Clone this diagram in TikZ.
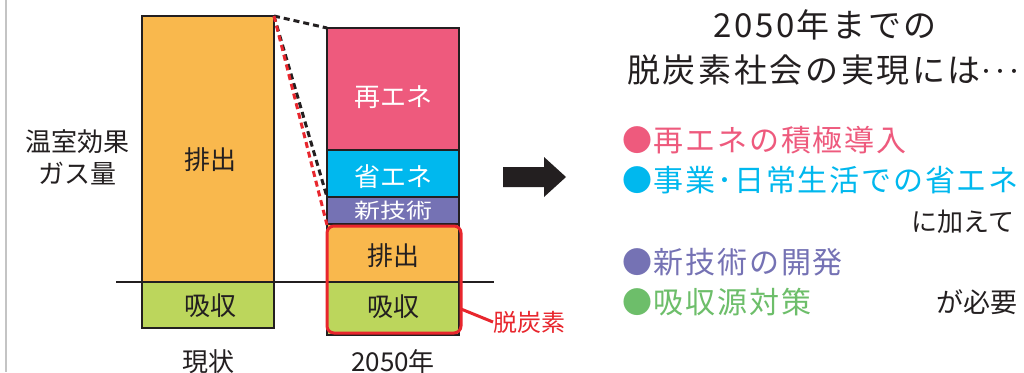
\documentclass[tikz,border=0pt]{standalone}
\usepackage{fontspec}
\usepackage{graphicx}
\setmainfont{Noto Sans CJK JP}
\newfontfamily\titlefont[LetterSpace=8]{Noto Sans CJK JP}
\newfontfamily\bulletfont[LetterSpace=6]{Noto Sans CJK JP}
\definecolor{barorange}{HTML}{F9B84D}
\definecolor{barlime}{HTML}{BCD65C}
\definecolor{barpink}{HTML}{EE5A7D}
\definecolor{barcyan}{HTML}{00B8EE}
\definecolor{barpurple}{HTML}{7572B4}
\definecolor{redline}{HTML}{E8262D}
\definecolor{bulgreen}{HTML}{6DBE6A}
\definecolor{ink}{HTML}{231F20}
\definecolor{frame}{HTML}{C4C4C4}
\tikzset{
  seg/.style={draw=ink, line width=2.8pt},
  barlabel/.style={text=ink, font=\fontsize{26}{30}\selectfont, inner sep=0pt},
  whitelabel/.style={text=white, font=\fontsize{26}{30}\selectfont, inner sep=0pt},
  bullet/.style={anchor=west, inner sep=0pt, font=\bulletfont\fontsize{30}{34}\selectfont},
  plain/.style={text=ink, inner sep=0pt},
  dashline/.style={line width=3pt, dash pattern=on 6pt off 4pt},
}
\begin{document}
\begin{tikzpicture}[x=1pt,y=-1pt]
\useasboundingbox (0,0) rectangle (1024,372);
\fill[white] (0,0) rectangle (1024,372);
\draw[frame, line width=1.5pt] (6,0) -- (6,372);

% left bar
\coordinate (LTL) at (142,16);
\coordinate (LTR) at (274,16);
\filldraw[seg, fill=barorange] (142,16) rectangle (274,282);
\filldraw[seg, fill=barlime] (142,282) rectangle (274,328);

% right bar
\coordinate (RTL) at (327,28);
\coordinate (RMid) at (327,197);
\coordinate (RLow) at (327,225);
\filldraw[seg, fill=barpink] (327,28) rectangle (459,150);
\filldraw[seg, fill=barcyan] (327,150) rectangle (459,197);
\filldraw[seg, fill=barpurple] (327,197) rectangle (459,224);
\filldraw[seg, fill=barorange] (327,224) rectangle (459,282);
\filldraw[seg, fill=barlime] (327,282) rectangle (459,335);

% baseline
\coordinate (BL) at (116,282);
\coordinate (BR) at (494,282);
\draw[ink, line width=1.5pt] (BL) -- (BR);

% dashed guide lines
\draw[ink, dashline] (LTR) -- (RTL);
\draw[ink, dashline] (LTR) -- (RMid);
\draw[redline, dashline] (LTR) -- (RLow);

% red box
\draw[redline, line width=3pt, rounded corners=7pt] (327,226) rectangle (461,333);
\coordinate (RB) at (461,309);
\node[text=redline, anchor=west, inner sep=0pt, font=\fontsize{24}{28}\selectfont] (dc) at (493,322) {脱炭素};
\draw[redline, line width=3pt] (RB) -- (dc.west);

% bar labels
\node[barlabel] (l1) at (210,160) {排出};
\node[barlabel] (l2) at (210,306) {吸収};
\node[barlabel] (l3) at (208,362) {現状};
\node[whitelabel] (r1) at (393,97) {再エネ};
\node[whitelabel] (r2) at (393,177) {省エネ};
\node[whitelabel] (r3) at (393,211) {\scalebox{1}[0.8]{新技術}};
\node[barlabel] (r4) at (393,256) {排出};
\node[barlabel] (r5) at (393,307) {吸収};
\node[barlabel] (r6) at (393,362) {2050年};
\node[barlabel] (y1) at (77,142) {温室効果};
\node[barlabel] (y2) at (77,173) {ガス量};

% arrow
\fill[ink] (503,167) -- (544,167) -- (544,157) -- (566,177) -- (544,197) -- (544,187) -- (503,187) -- cycle;

% titles
\node[plain, font=\titlefont\fontsize{33}{36}\selectfont] (t1) at (825,25) {2050年までの};
\node[plain, font=\titlefont\fontsize{33}{36}\selectfont, anchor=west] (t2) at (627,70) {脱炭素社会の実現には{\fontsize{24}{28}\selectfont\raisebox{1.5pt}{･･･}}};

% bullets
\node[bullet, text=barpink] (b1) at (622,140) {●再エネの積極導入};
\node[bullet, text=barcyan] (b2) at (622,180) {●事業･日常生活での省エネ};
\node[plain, font=\fontsize{26}{30}\selectfont] (k1) at (963,222) {に加えて};
\node[bullet, text=barpurple] (b3) at (622,262) {●新技術の開発};
\node[bullet, text=bulgreen] (b4) at (622,302) {●吸収源対策};
\node[plain, font=\fontsize{27}{30}\selectfont] (k2) at (977,302) {が必要};
\end{tikzpicture}
\end{document}
